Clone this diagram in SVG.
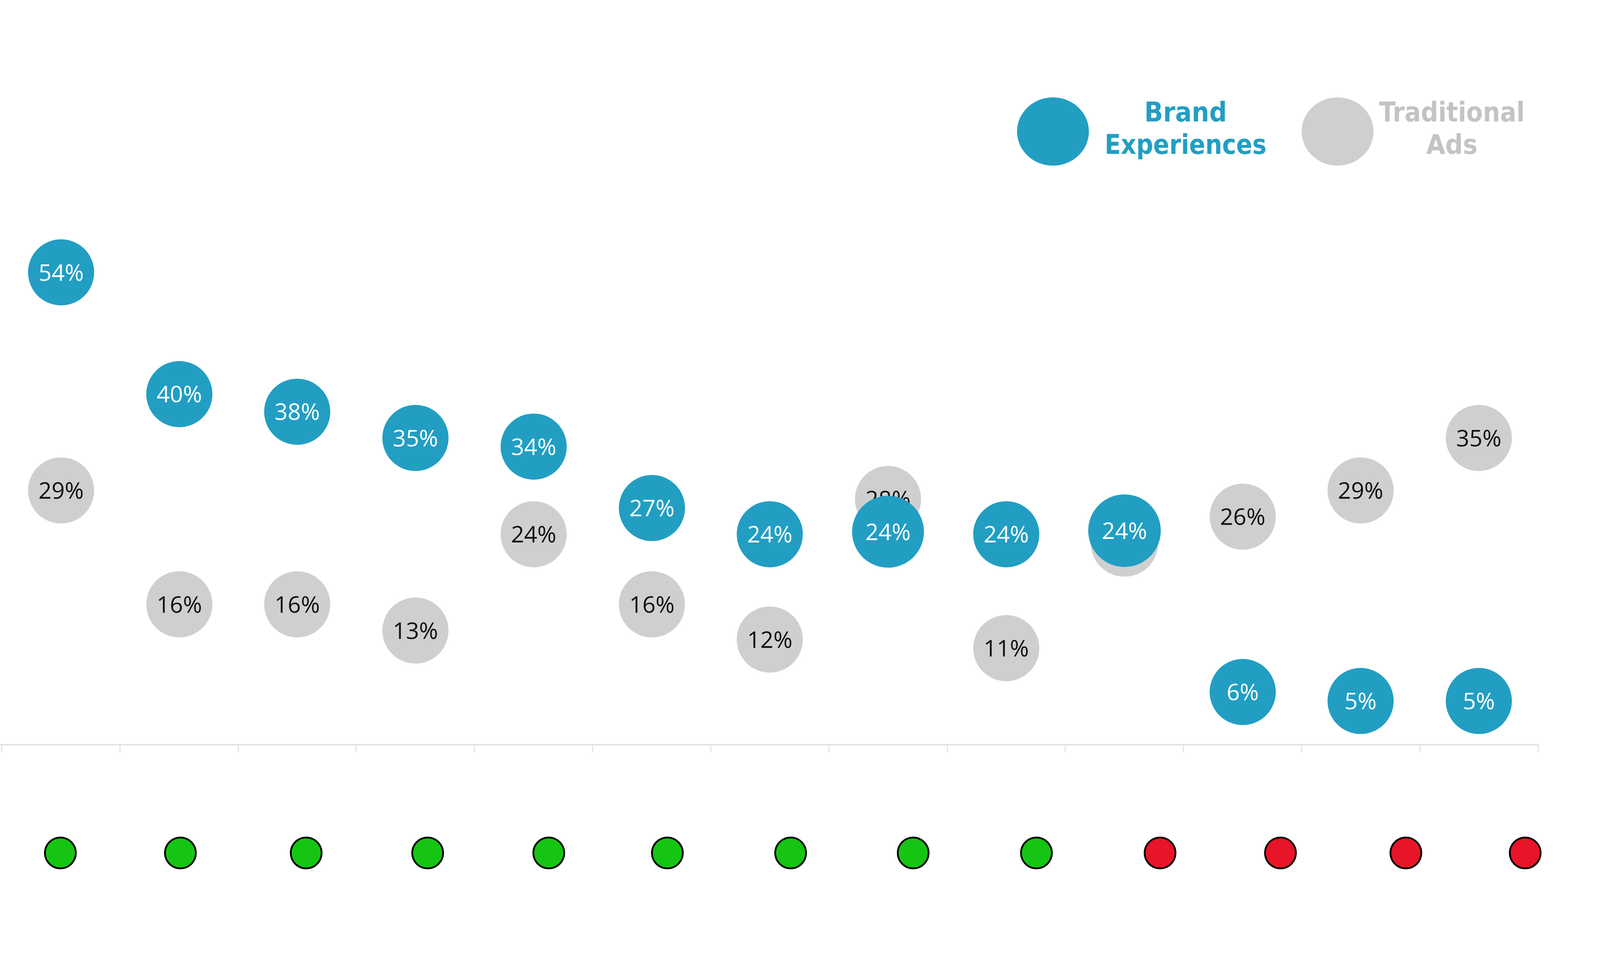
<svg xmlns="http://www.w3.org/2000/svg" width="4400" height="2471" viewBox="0 0 4400 2471">
<style>
.b{fill:#229ec3}.g{fill:#d0cfd0}
.lb{font-family:"Open Sans","Liberation Sans",sans-serif;font-size:64px;fill:#fff;text-anchor:middle}
.lg{font-family:"Open Sans","Liberation Sans",sans-serif;font-size:64px;fill:#111;text-anchor:middle}
.leg{font-family:"DejaVu Sans Condensed","DejaVu Sans",sans-serif;font-weight:bold;font-size:76px;text-anchor:middle}
.ax{stroke:#e2e2e2;stroke-width:3;fill:none}
.ok{fill:#16c513;stroke:#000;stroke-width:5}.no{fill:#e81427;stroke:#000;stroke-width:5}
</style>
<g transform="scale(0.92)">
<g id="axis" class="ax">
<line x1="0" y1="2073" x2="4282" y2="2073" stroke-width="4"/>
<path d="M5 2073v22M334 2073v22M663 2073v22M991 2073v22M1320 2073v22M1649 2073v22M1978 2073v22M2307 2073v22M2636 2073v22M2964 2073v22M3293 2073v22M3622 2073v22M3951 2073v22M4280 2073v22"/>
</g>
<g id="legend">
<ellipse class="b" cx="2930" cy="366" rx="100" ry="95"/>
<text class="leg" fill="#229ec3" x="3299" y="338">Brand</text>
<text class="leg" fill="#229ec3" x="3299" y="428" textLength="450" lengthAdjust="spacingAndGlyphs">Experiences</text>
<ellipse class="g" cx="3722" cy="366" rx="100" ry="95"/>
<text class="leg" fill="#c3c3c3" x="4040" y="338" textLength="405" lengthAdjust="spacingAndGlyphs">Traditional</text>
<text class="leg" fill="#c3c3c3" x="4040" y="428">Ads</text>
</g>
<g id="gray">
<circle class="g" cx="170" cy="1365" r="92"/><text class="lg" x="170" y="1388">29%</text>
<circle class="g" cx="499" cy="1682" r="92"/><text class="lg" x="499" y="1705">16%</text>
<circle class="g" cx="827" cy="1682" r="92"/><text class="lg" x="827" y="1705">16%</text>
<circle class="g" cx="1156" cy="1755" r="92"/><text class="lg" x="1156" y="1778">13%</text>
<circle class="g" cx="1485" cy="1487" r="92"/><text class="lg" x="1485" y="1510">24%</text>
<circle class="g" cx="1814" cy="1682" r="92"/><text class="lg" x="1814" y="1705">16%</text>
<circle class="g" cx="2142" cy="1780" r="92"/><text class="lg" x="2142" y="1803">12%</text>
<circle class="g" cx="2471" cy="1389" r="92"/><text class="lg" x="2471" y="1412">28%</text>
<circle class="g" cx="2800" cy="1804" r="92"/><text class="lg" x="2800" y="1827">11%</text>
<circle class="g" cx="3129" cy="1511" r="94"/>
<circle class="g" cx="3458" cy="1438" r="92"/><text class="lg" x="3458" y="1461">26%</text>
<circle class="g" cx="3786" cy="1365" r="92"/><text class="lg" x="3786" y="1388">29%</text>
<circle class="g" cx="4115" cy="1219" r="92"/><text class="lg" x="4115" y="1242">35%</text>
</g>
<g id="blue">
<circle class="b" cx="170" cy="758" r="92"/><text class="lb" x="170" y="781">54%</text>
<circle class="b" cx="499" cy="1097" r="92"/><text class="lb" x="499" y="1120">40%</text>
<circle class="b" cx="827" cy="1146" r="92"/><text class="lb" x="827" y="1169">38%</text>
<circle class="b" cx="1156" cy="1219" r="92"/><text class="lb" x="1156" y="1242">35%</text>
<circle class="b" cx="1485" cy="1243" r="92"/><text class="lb" x="1485" y="1266">34%</text>
<circle class="b" cx="1814" cy="1414" r="92"/><text class="lb" x="1814" y="1437">27%</text>
<circle class="b" cx="2142" cy="1487" r="92"/><text class="lb" x="2142" y="1510">24%</text>
<circle class="b" cx="2471" cy="1480" r="100"/><text class="lb" x="2471" y="1503">24%</text>
<circle class="b" cx="2800" cy="1487" r="92"/><text class="lb" x="2800" y="1510">24%</text>
<circle class="b" cx="3129" cy="1477" r="101"/><text class="lb" x="3129" y="1500">24%</text>
<circle class="b" cx="3458" cy="1926" r="92"/><text class="lb" x="3458" y="1949">6%</text>
<circle class="b" cx="3786" cy="1951" r="92"/><text class="lb" x="3786" y="1974">5%</text>
<circle class="b" cx="4115" cy="1951" r="92"/><text class="lb" x="4115" y="1974">5%</text>
</g>
<g id="status">
<circle class="ok" cx="168" cy="2374" r="43"/><circle class="ok" cx="502" cy="2374" r="43"/>
<circle class="ok" cx="852" cy="2374" r="43"/><circle class="ok" cx="1190" cy="2374" r="43"/>
<circle class="ok" cx="1527" cy="2374" r="43"/><circle class="ok" cx="1857" cy="2374" r="43"/>
<circle class="ok" cx="2200" cy="2374" r="43"/><circle class="ok" cx="2541" cy="2374" r="43"/>
<circle class="ok" cx="2884" cy="2374" r="43"/><circle class="no" cx="3228" cy="2374" r="43"/>
<circle class="no" cx="3563" cy="2374" r="43"/><circle class="no" cx="3912" cy="2374" r="43"/>
<circle class="no" cx="4244" cy="2374" r="43"/>
</g>
</g>
</svg>
